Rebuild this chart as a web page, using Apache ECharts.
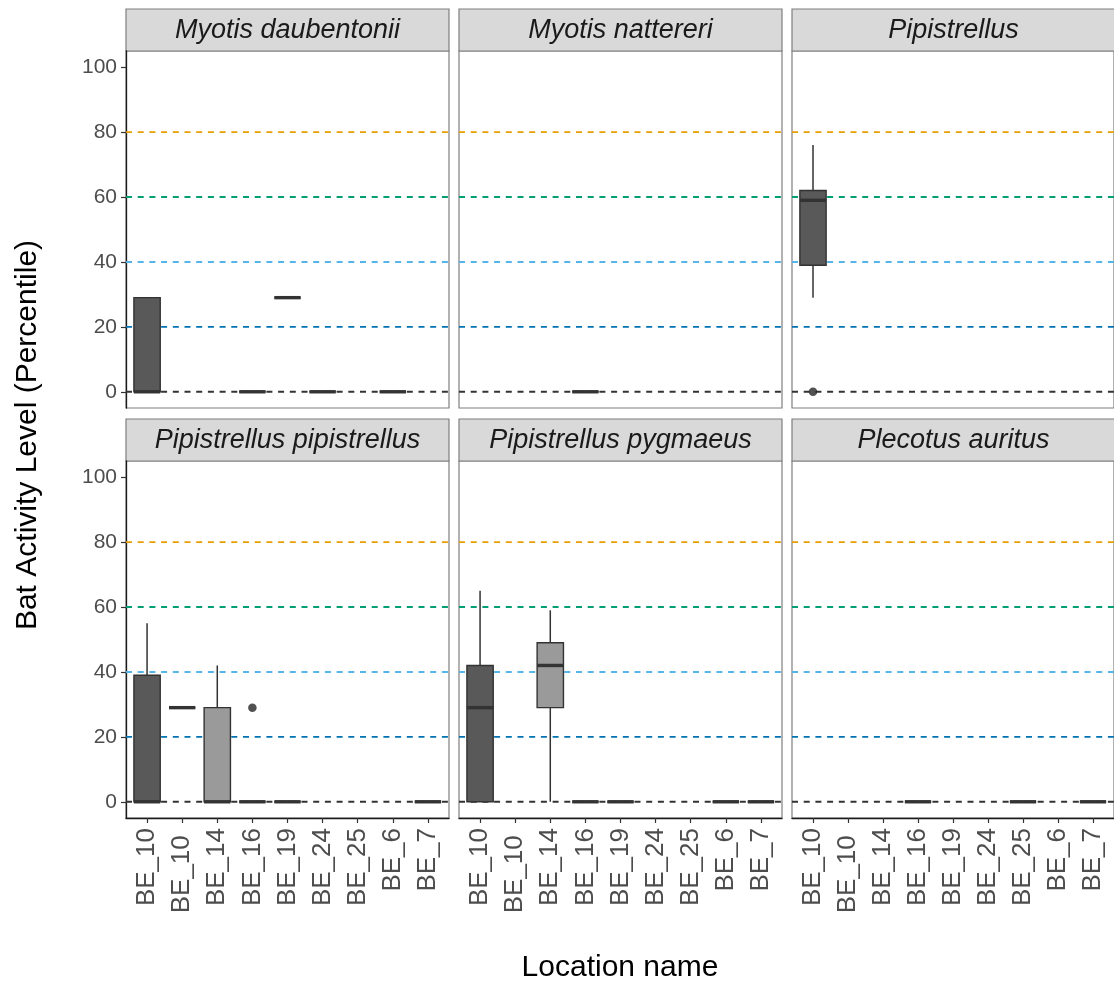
<!DOCTYPE html>
<html>
<head>
<meta charset="utf-8">
<title>Bat Activity Level by Location</title>
<script src="https://cdn.jsdelivr.net/npm/echarts@6/dist/echarts.min.js"></script>
<style>
  html, body { margin: 0; padding: 0; background: #ffffff; }
  #chart { width: 1114px; height: 988px; }
</style>
</head>
<body>
<div id="chart"></div>
<script>
// ---- data -------------------------------------------------------------
const LOCATIONS = ['BE_10', 'BE_10 ', 'BE_14', 'BE_16', 'BE_19', 'BE_24', 'BE_25', 'BE_6', 'BE_7'];
// fill group of each location (0 = dark, 1 = light)
const FILL_GROUP = [0, 0, 1, 0, 0, 0, 0, 0, 0];
const SPECIES = [
  'Myotis daubentonii', 'Myotis nattereri', 'Pipistrellus',
  'Pipistrellus pipistrellus', 'Pipistrellus pygmaeus', 'Plecotus auritus'
];
const Y_TICKS = [0, 20, 40, 60, 80, 100];
const THRESHOLDS = [0, 20, 40, 60, 80];

// [location, lower whisker, Q1, median, Q3, upper whisker]
const BOX_M_DAUBENTONII = [
  ['BE_10', 0, 0, 0, 29, 29],
  ['BE_16', 0, 0, 0, 0, 0],
  ['BE_19', 29, 29, 29, 29, 29],
  ['BE_24', 0, 0, 0, 0, 0],
  ['BE_6', 0, 0, 0, 0, 0]
];
const BOX_M_NATTERERI = [
  ['BE_16', 0, 0, 0, 0, 0]
];
const BOX_PIPISTRELLUS = [
  ['BE_10', 29, 39, 59, 62, 76]
];
const BOX_P_PIPISTRELLUS = [
  ['BE_10', 0, 0, 0, 39, 55],
  ['BE_10 ', 29, 29, 29, 29, 29],
  ['BE_14', 0, 0, 0, 29, 42],
  ['BE_16', 0, 0, 0, 0, 0],
  ['BE_19', 0, 0, 0, 0, 0],
  ['BE_7', 0, 0, 0, 0, 0]
];
const BOX_P_PYGMAEUS = [
  ['BE_10', 0, 0, 29, 42, 65],
  ['BE_14', 0, 29, 42, 49, 59],
  ['BE_16', 0, 0, 0, 0, 0],
  ['BE_19', 0, 0, 0, 0, 0],
  ['BE_6', 0, 0, 0, 0, 0],
  ['BE_7', 0, 0, 0, 0, 0]
];
const BOX_P_AURITUS = [
  ['BE_16', 0, 0, 0, 0, 0],
  ['BE_25', 0, 0, 0, 0, 0],
  ['BE_7', 0, 0, 0, 0, 0]
];

// [location, value]
const OUT_M_DAUBENTONII = [];
const OUT_M_NATTERERI = [];
const OUT_PIPISTRELLUS = [['BE_10', 0]];
const OUT_P_PIPISTRELLUS = [['BE_16', 29]];
const OUT_P_PYGMAEUS = [];
const OUT_P_AURITUS = [];

const BOXES = [BOX_M_DAUBENTONII, BOX_M_NATTERERI, BOX_PIPISTRELLUS,
               BOX_P_PIPISTRELLUS, BOX_P_PYGMAEUS, BOX_P_AURITUS];
const OUTLIERS = [OUT_M_DAUBENTONII, OUT_M_NATTERERI, OUT_PIPISTRELLUS,
                  OUT_P_PIPISTRELLUS, OUT_P_PYGMAEUS, OUT_P_AURITUS];

// ---- styling ----------------------------------------------------------
const FONT = '"Liberation Sans", Arial, Helvetica, sans-serif';
const THRESHOLD_COLORS = ['#333333', '#0072B2', '#56B4E9', '#009E73', '#E69F00'];
const BOX_FILLS = ['#595959', '#9a9a9a'];
const LINE_COLOR = '#333333';
const BOX_WIDTH = 0.75;           // in category units

// facet layout (pixels)
const PANEL_LEFT = [126, 459, 792];
const PANEL_WIDTH = 323;
const PANEL_TOP = [51, 461];
const PANEL_HEIGHT = 357;
const STRIP_TOP = [9, 419];
const STRIP_HEIGHT = 42;

const xPos = name => LOCATIONS.indexOf(name) + 1;

function renderBox(params, api) {
  const x = api.value(0);
  const lo = api.value(1), q1 = api.value(2), med = api.value(3), q3 = api.value(4), hi = api.value(5);
  const fill = BOX_FILLS[api.value(6)];
  const cx = api.coord([x, med])[0];
  const yMed = api.coord([x, med])[1];
  const yLo = api.coord([x, lo])[1];
  const yQ1 = api.coord([x, q1])[1];
  const yQ3 = api.coord([x, q3])[1];
  const yHi = api.coord([x, hi])[1];
  const half = api.size([BOX_WIDTH, 0])[0] / 2;
  const thin = { stroke: LINE_COLOR, lineWidth: 1.5 };
  return {
    type: 'group',
    children: [
      { type: 'line', shape: { x1: cx, y1: yHi, x2: cx, y2: yQ3 }, style: thin },
      { type: 'line', shape: { x1: cx, y1: yQ1, x2: cx, y2: yLo }, style: thin },
      { type: 'rect', shape: { x: cx - half, y: yQ3, width: half * 2, height: yQ1 - yQ3 },
        style: { fill: fill, stroke: LINE_COLOR, lineWidth: 1.4 } },
      { type: 'line', shape: { x1: cx - half, y1: yMed, x2: cx + half, y2: yMed },
        style: { stroke: LINE_COLOR, lineWidth: 3.4 } }
    ]
  };
}

function renderThreshold(params, api) {
  const cs = params.coordSys;
  const y = api.coord([1, api.value(0)])[1];
  return {
    type: 'line',
    shape: { x1: cs.x, y1: y, x2: cs.x + cs.width, y2: y },
    style: { stroke: THRESHOLD_COLORS[api.value(1)], lineWidth: 1.9, lineDash: [6, 5.7] }
  };
}

const grids = [], xAxes = [], yAxes = [], series = [], graphics = [];

SPECIES.forEach((sp, i) => {
  const row = Math.floor(i / 3), col = i % 3;
  const left = PANEL_LEFT[col], top = PANEL_TOP[row];
  const isBottom = row === 1, isLeft = col === 0;

  grids.push({
    left: left, top: top, width: PANEL_WIDTH, height: PANEL_HEIGHT,
    show: true, borderColor: '#7f7f7f', borderWidth: 1.2, backgroundColor: '#ffffff'
  });

  xAxes.push({
    type: 'value', gridIndex: i, min: 0.4, max: 9.6,
    splitLine: { show: false },
    axisLine: { show: isBottom, onZero: false, lineStyle: { color: '#1a1a1a', width: 1.3 } },
    axisTick: {
      show: isBottom, length: 5, customValues: LOCATIONS.map((_, k) => k + 1),
      lineStyle: { color: LINE_COLOR, width: 1.2 }
    },
    axisLabel: {
      show: isBottom, rotate: 90, margin: 10,
      customValues: LOCATIONS.map((_, k) => k + 1),
      formatter: v => LOCATIONS[Math.round(v) - 1],
      color: '#4d4d4d', fontSize: 26, fontFamily: FONT
    }
  });

  yAxes.push({
    type: 'value', gridIndex: i, min: -5, max: 105,
    splitLine: { show: false },
    axisLine: { show: isLeft, onZero: false, lineStyle: { color: '#1a1a1a', width: 1.3 } },
    axisTick: {
      show: isLeft, length: 5, customValues: Y_TICKS,
      lineStyle: { color: LINE_COLOR, width: 1.2 }
    },
    axisLabel: {
      show: isLeft, margin: 9, customValues: Y_TICKS,
      color: '#4d4d4d', fontSize: 21, fontFamily: FONT
    }
  });

  series.push({
    type: 'custom', name: 'thresholds-' + i, xAxisIndex: i, yAxisIndex: i, z: 1,
    silent: true,
    data: THRESHOLDS.map((v, k) => [v, k]),
    encode: { y: 0 },
    renderItem: renderThreshold
  });

  series.push({
    type: 'custom', name: sp, xAxisIndex: i, yAxisIndex: i, z: 2,
    data: BOXES[i].map(b => {
      const idx = LOCATIONS.indexOf(b[0]);
      return [idx + 1, b[1], b[2], b[3], b[4], b[5], FILL_GROUP[idx]];
    }),
    encode: { x: 0, y: [1, 2, 3, 4, 5] },
    renderItem: renderBox
  });

  series.push({
    type: 'scatter', name: sp + ' outliers', xAxisIndex: i, yAxisIndex: i, z: 3,
    symbol: 'circle', symbolSize: 8.5,
    itemStyle: { color: '#262626' },
    data: OUTLIERS[i].map(o => [xPos(o[0]), o[1]])
  });

  // facet strip
  graphics.push({
    type: 'rect', silent: true,
    shape: { x: left, y: STRIP_TOP[row], width: PANEL_WIDTH, height: STRIP_HEIGHT },
    style: { fill: '#d9d9d9', stroke: '#7f7f7f', lineWidth: 1.2 }
  });
  graphics.push({
    type: 'text', silent: true,
    x: left + PANEL_WIDTH / 2, y: STRIP_TOP[row] + STRIP_HEIGHT / 2,
    style: {
      text: sp, align: 'center', verticalAlign: 'middle',
      fontSize: 27, fontStyle: 'italic', fontFamily: FONT, fill: '#1a1a1a'
    }
  });
});

// axis titles
graphics.push({
  type: 'text', silent: true, x: 28, y: 435, rotation: Math.PI / 2,
  style: {
    text: 'Bat Activity Level (Percentile)', align: 'center', verticalAlign: 'middle',
    fontSize: 30, fontFamily: FONT, fill: '#000000'
  }
});
graphics.push({
  type: 'text', silent: true, x: 620, y: 968,
  style: {
    text: 'Location name', align: 'center', verticalAlign: 'middle',
    fontSize: 30, fontFamily: FONT, fill: '#000000'
  }
});

const chart = echarts.init(document.getElementById('chart'), null, { renderer: 'canvas' });
chart.setOption({
  backgroundColor: '#ffffff',
  animation: false,
  grid: grids,
  xAxis: xAxes,
  yAxis: yAxes,
  series: series,
  graphic: graphics
});
</script>
</body>
</html>
